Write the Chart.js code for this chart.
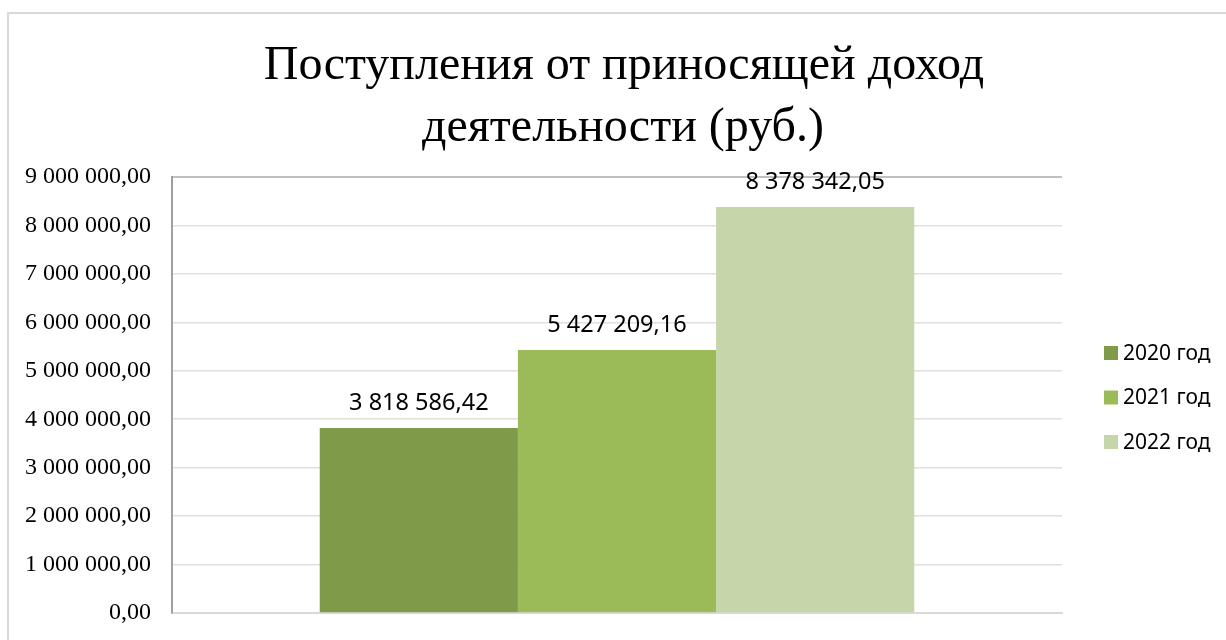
<!DOCTYPE html>
<html><head><meta charset="utf-8">
<script src="https://cdn.jsdelivr.net/npm/chart.js@4"></script>
<style>
html,body{margin:0;padding:0;background:#fff;overflow:hidden}
#wrap{position:relative;width:1226px;height:640px;overflow:hidden}
#frame{position:absolute;left:7px;top:12px;width:1260px;height:700px;border:2px solid #d9d9d9;box-sizing:border-box}
canvas{position:absolute;left:0;top:0}
</style></head>
<body><div id="wrap"><div id="frame"></div><canvas id="c" width="1226" height="640"></canvas></div>
<script>
const titleLines = ['Поступления от приносящей доход', 'деятельности (руб.)'];
const categories = [''];
const seriesNames = ['2020 год', '2021 год', '2022 год'];
const values2020 = [3818586.42];
const values2021 = [5427209.16];
const values2022 = [8378342.05];
const seriesColors = ['#7f9b4a', '#9bbb59', '#c5d6aa'];
const yMin = 0, yMax = 9000000, yStep = 1000000;

function fmt(n) {
  const s = n.toFixed(2).split('.');
  return s[0].replace(/\B(?=(\d{3})+(?!\d))/g, ' ') + ',' + s[1];
}

const titlePlugin = {
  id: 'titleText',
  afterDraw(chart) {
    const ctx = chart.ctx;
    ctx.save();
    ctx.fillStyle = '#000';
    ctx.font = '48px "Liberation Serif"';
    ctx.textAlign = 'center';
    ctx.textBaseline = 'alphabetic';
    ctx.fillText(titleLines[0], 624, 79);
    ctx.fillText(titleLines[1], 623, 141);
    ctx.restore();
  }
};

const labelPlugin = {
  id: 'dataLabels',
  afterDatasetsDraw(chart) {
    const ctx = chart.ctx;
    ctx.save();
    ctx.fillStyle = '#000';
    ctx.font = '23.5px "Noto Sans"';
    ctx.textAlign = 'center';
    ctx.textBaseline = 'alphabetic';
    chart.data.datasets.forEach((ds, i) => {
      const meta = chart.getDatasetMeta(i);
      meta.data.forEach((el, j) => {
        ctx.fillText(fmt(ds.data[j]), el.x, el.y - 18);
      });
    });
    ctx.restore();
  }
};

const legendPlugin = {
  id: 'sideLegend',
  afterDraw(chart) {
    const ctx = chart.ctx;
    ctx.save();
    ctx.font = '21px "Noto Sans"';
    ctx.textBaseline = 'middle';
    ctx.textAlign = 'left';
    chart.data.datasets.forEach((ds, i) => {
      const cy = 353 + i * 44.5;
      ctx.fillStyle = ds.backgroundColor;
      ctx.fillRect(1104, cy - 7, 14, 14);
      ctx.fillStyle = '#000';
      ctx.fillText(ds.label, 1123, cy + 1);
    });
    ctx.restore();
  }
};

new Chart(document.getElementById('c'), {
  type: 'bar',
  data: {
    labels: categories,
    datasets: [
      { label: seriesNames[0], data: values2020, backgroundColor: seriesColors[0] },
      { label: seriesNames[1], data: values2021, backgroundColor: seriesColors[1] },
      { label: seriesNames[2], data: values2022, backgroundColor: seriesColors[2] }
    ]
  },
  options: {
    responsive: false,
    animation: false,
    devicePixelRatio: 1,
    layout: { padding: { top: 177, right: 164, bottom: 27, left: 0 } },
    datasets: { bar: { barPercentage: 1, categoryPercentage: 0.668 } },
    plugins: {
      legend: { display: false },
      title: { display: false },
      tooltip: { enabled: false }
    },
    scales: {
      x: {
        grid: { display: false },
        ticks: { display: false },
        border: { display: true, color: '#d9d9d9', width: 2 },
        afterFit(s) { s.height = 0; }
      },
      y: {
        min: yMin, max: yMax,
        ticks: {
          stepSize: yStep,
          padding: 21,
          color: '#000',
          font: { family: '"Liberation Serif"', size: 24, lineHeight: 0.4 },
          callback: v => fmt(v)
        },
        grid: {
          drawTicks: false,
          color: c => (c.tick && c.tick.value === yMax) ? '#c0c0c0' : '#e0e0e0',
          lineWidth: c => (c.tick && c.tick.value === yMax) ? 2 : 1.5
        },
        border: { display: true, color: '#a0a0a0', width: 2 },
        afterFit(s) { s.width = 172; }
      }
    }
  },
  plugins: [titlePlugin, labelPlugin, legendPlugin]
});
</script>
</body></html>
